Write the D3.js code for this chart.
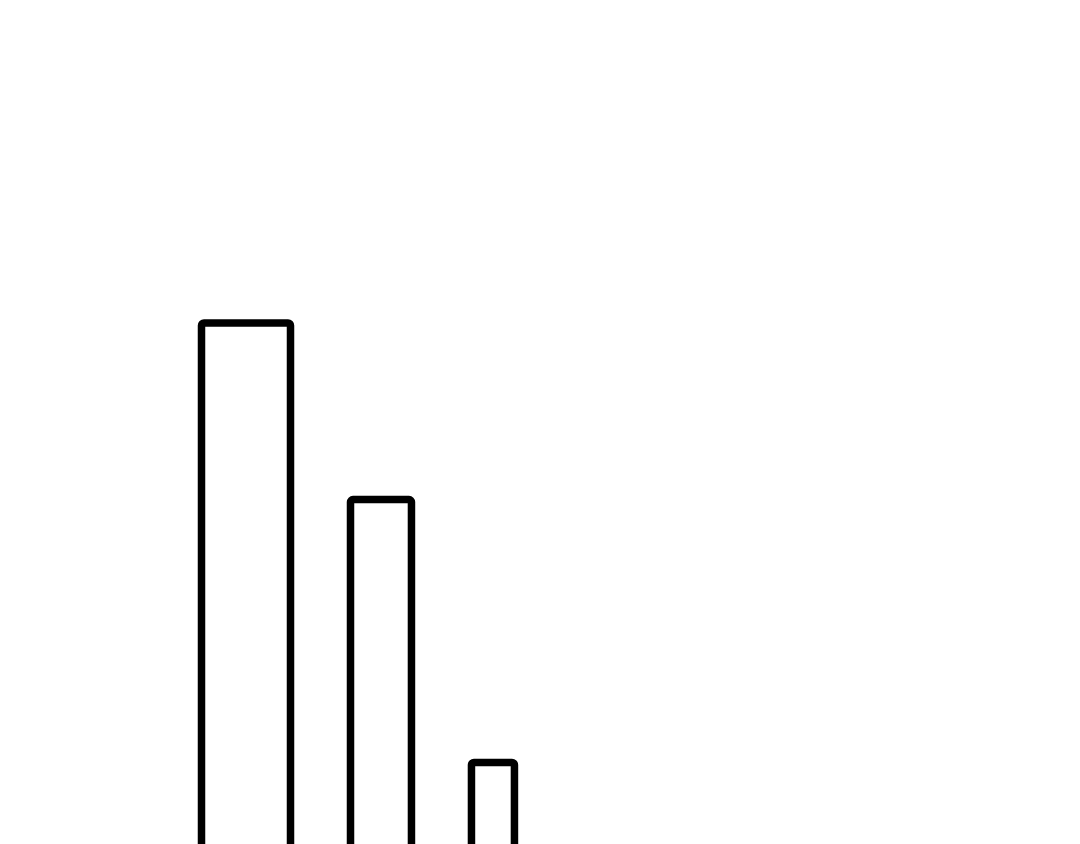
<!DOCTYPE html>
<html>
<head>
<meta charset="utf-8">
<script src="https://cdn.jsdelivr.net/npm/d3@7"></script>
<style>
  html, body { margin: 0; padding: 0; background: #fff; }
  svg { display: block; }
</style>
</head>
<body>
<svg id="chart"></svg>
<script>
// bar data: height value and width weight per category
const categories = ['A', 'B', 'C'];
const values = [100, 68.3, 21.1];
const widths = [100, 68.5, 48.3];

const WIDTH = 1080;
const HEIGHT = 844;
const LEFT = 201.5;     // first bar's left stroke centre
const GAP = 60;         // space between bars
const BASE = 880;       // baseline sits below the visible area
const TOP = 323;        // y for the max value

const svg = d3.select('#chart').attr('width', WIDTH).attr('height', HEIGHT);

const y = d3.scaleLinear().domain([0, 100]).range([BASE, TOP]);
const w = d3.scaleLinear().domain([0, 100]).range([0, 89]);

// running x offset so each bar starts one gap after the previous one
let cursor = LEFT;
const bars = categories.map((c, i) => {
    const x = cursor;
    cursor += w(widths[i]) + GAP;
    return { c, x, width: w(widths[i]), value: values[i] };
});

svg.selectAll('rect.bar')
    .data(bars)
    .join('rect')
    .attr('class', 'bar')
    .attr('x', d => d.x)
    .attr('y', d => y(d.value))
    .attr('width', d => d.width)
    .attr('height', d => y(0) - y(d.value))
    .attr('rx', 2.5)
    .style('fill', 'none')
    .style('stroke', '#000')
    .style('stroke-width', 7.5)
    .style('stroke-linejoin', 'round');
</script>
</body>
</html>
